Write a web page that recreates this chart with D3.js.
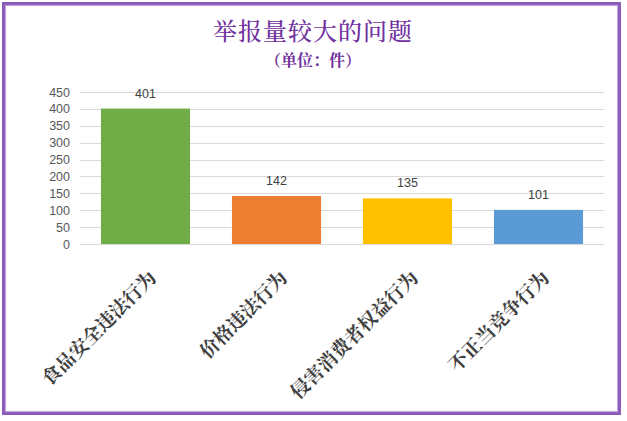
<!DOCTYPE html>
<html>
<head>
<meta charset="utf-8">
<script src="https://cdn.jsdelivr.net/npm/d3@7"></script>
<style>
  body { margin: 0; background: #fff; }
  svg { display: block; }
</style>
</head>
<body>
<div id="chart"></div>
<script>
// Data
var categories = ["食品安全违法行为", "价格违法行为", "侵害消费者权益行为", "不正当竞争行为"];
var values = [401, 142, 135, 101];
var barColors = ["#70AD47", "#ED7D31", "#FFC000", "#5B9BD5"];
var yTicks = [0, 50, 100, 150, 200, 250, 300, 350, 400, 450];

var width = 627;
var height = 421;
var margin = { top: 92, right: 23, bottom: 177, left: 80 };

var svg = d3
  .select("#chart")
  .append("svg")
  .attr("width", width)
  .attr("height", height);

// Frame (purple double border)
svg
  .append("rect")
  .attr("x", 3.5)
  .attr("y", 3.5)
  .attr("width", 616)
  .attr("height", 410)
  .attr("fill", "#fff")
  .attr("stroke", "#8A5CB8")
  .attr("stroke-width", 3);
svg
  .append("rect")
  .attr("x", 5.5)
  .attr("y", 5.5)
  .attr("width", 612)
  .attr("height", 406)
  .attr("fill", "none")
  .attr("stroke", "#C3A8E0")
  .attr("stroke-width", 1.2);

// Scales
var x = d3
  .scaleBand()
  .domain(categories)
  .range([margin.left, width - margin.right])
  .paddingInner(0.32)
  .paddingOuter(0.16);

var y = d3
  .scaleLinear()
  .domain([0, 450])
  .range([height - margin.bottom, margin.top]);

// Gridlines
svg
  .append("g")
  .selectAll("line")
  .data(yTicks)
  .enter()
  .append("line")
  .attr("x1", margin.left)
  .attr("x2", width - margin.right)
  .attr("y1", function (d) { return Math.round(y(d)) + 0.5; })
  .attr("y2", function (d) { return Math.round(y(d)) + 0.5; })
  .attr("stroke", "#D9D9D9")
  .attr("stroke-width", 1);

// Y axis labels
var yAxis = svg
  .append("g")
  .attr("transform", "translate(" + margin.left + ",0)")
  .call(d3.axisLeft(y).tickValues(yTicks).tickSize(0).tickPadding(10));
yAxis.select(".domain").remove();
yAxis
  .selectAll("text")
  .attr("fill", "#595959")
  .style("font-family", "'Liberation Sans', Arial, sans-serif")
  .style("font-size", "12.5px");

// Bars
svg
  .selectAll("rect.bar")
  .data(values)
  .enter()
  .append("rect")
  .attr("class", "bar")
  .attr("x", function (d, i) { return x(categories[i]); })
  .attr("y", function (d) { return y(d); })
  .attr("width", x.bandwidth())
  .attr("height", function (d) { return y(0) - y(d); })
  .attr("fill", function (d, i) { return barColors[i]; });

// Value labels
svg
  .selectAll("text.value")
  .data(values)
  .enter()
  .append("text")
  .attr("class", "value")
  .attr("x", function (d, i) { return x(categories[i]) + x.bandwidth() / 2; })
  .attr("y", function (d) { return y(d) - 11; })
  .attr("text-anchor", "middle")
  .attr("fill", "#404040")
  .style("font-family", "'Liberation Sans', Arial, sans-serif")
  .style("font-size", "12.5px")
  .text(function (d) { return d; });

// Category labels, rotated
svg
  .selectAll("text.cat")
  .data(categories)
  .enter()
  .append("text")
  .attr("class", "cat")
  .attr("transform", function (d) {
    var cx = x(d) + x.bandwidth() / 2 + 12;
    var cy = y(0) + 35;
    return "translate(" + cx + "," + cy + ") rotate(-45)";
  })
  .attr("text-anchor", "end")
  .attr("fill", "#404040")
  .style("font-family", "'Noto Serif CJK SC', 'Noto Sans CJK SC', sans-serif")
  .style("font-weight", "bold")
  .style("font-size", "19px")
  .text(function (d) { return d; });

// Title
svg
  .append("text")
  .attr("x", 313)
  .attr("y", 40)
  .attr("text-anchor", "middle")
  .attr("fill", "#7030A0")
  .style("font-family", "'Noto Serif CJK SC', 'Noto Sans CJK SC', sans-serif")
  .style("font-weight", "500")
  .style("font-size", "24px")
  .style("letter-spacing", "1px")
  .text("举报量较大的问题");

svg
  .append("text")
  .attr("x", 313)
  .attr("y", 66)
  .attr("text-anchor", "middle")
  .attr("fill", "#7030A0")
  .style("font-family", "'Noto Serif CJK SC', 'Noto Sans CJK SC', sans-serif")
  .style("font-weight", "bold")
  .style("font-size", "16px")
  .text("（单位：件）");
</script>
</body>
</html>
